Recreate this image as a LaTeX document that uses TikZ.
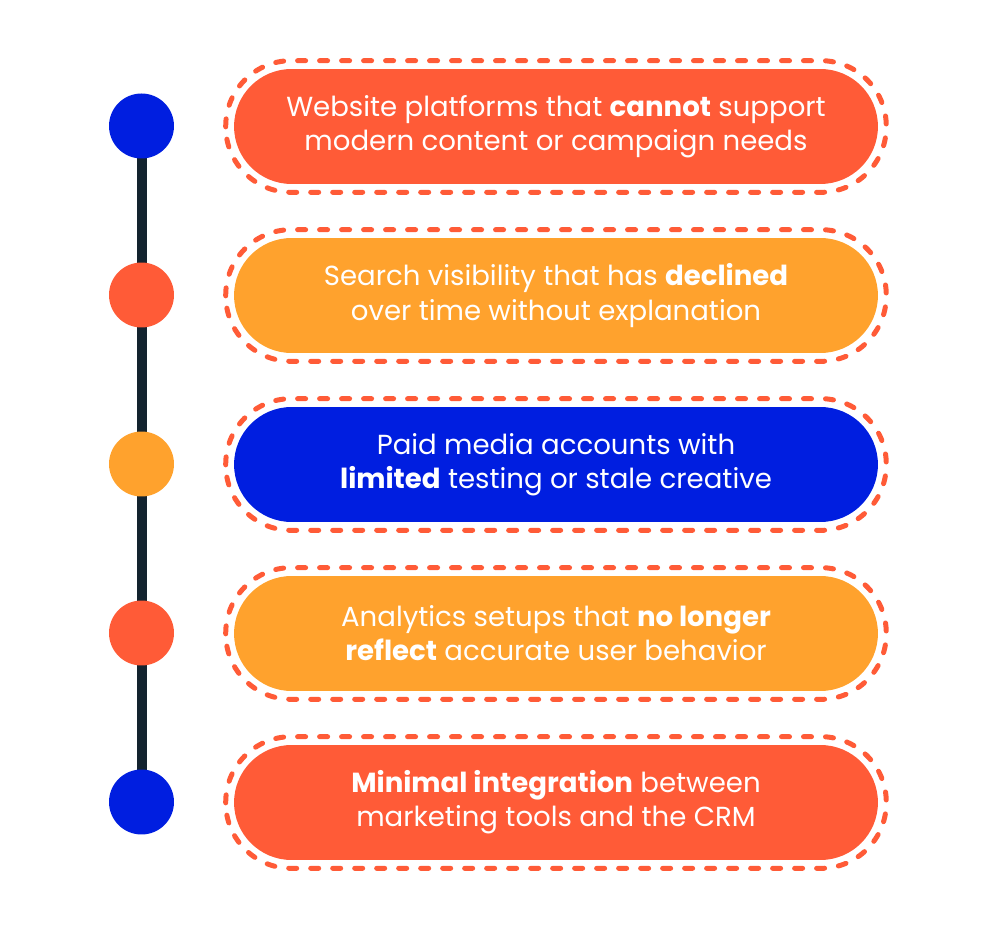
\documentclass[tikz,border=0pt]{standalone}
\usepackage{fontspec}
\setmainfont{Poppins}
\usetikzlibrary{backgrounds}
\definecolor{tomato}{HTML}{FF5B37}
\definecolor{amber}{HTML}{FFA22D}
\definecolor{royal}{HTML}{001EE0}
\definecolor{ink}{HTML}{13232F}
\begin{document}
\begin{tikzpicture}[x=0.02cm,y=-0.02cm,
    dot/.style={circle,minimum size=1.3cm,inner sep=0pt},
    pill/.style={rectangle,rounded corners=1.15cm,minimum width=12.88cm,minimum height=2.3cm,
        text=white,align=center,font=\fontsize{15.7}{19.4}\selectfont},
    dashring/.style={draw=tomato,line width=0.1cm,line cap=round,dash pattern=on 0.16cm off 0.28cm,rounded corners=1.31cm}]
\useasboundingbox (0,0) rectangle (1000,928);
\node[dot,fill=royal] (dot1) at (141.5,126) {};
\node[dot,fill=tomato] (dot2) at (141.5,295) {};
\node[dot,fill=amber] (dot3) at (141.5,464) {};
\node[dot,fill=tomato] (dot4) at (141.5,633) {};
\node[dot,fill=royal] (dot5) at (141.5,802) {};
\begin{scope}[on background layer]
\draw[ink,line width=0.2cm] (dot1.center) -- (dot5.center);
\end{scope}
\node[pill,fill=tomato] (box1) at (556,126.5) {Website platforms that \textbf{cannot} support\\modern content or campaign needs};
\node[pill,fill=amber] (box2) at (556,295.5) {Search visibility that has \textbf{declined}\\over time without explanation};
\node[pill,fill=royal] (box3) at (556,464.5) {Paid media accounts with\\\textbf{limited} testing or stale creative};
\node[pill,fill=amber] (box4) at (556,633.5) {Analytics setups that \textbf{no longer}\\\textbf{reflect} accurate user behavior};
\node[pill,fill=tomato] (box5) at (556,802.5) {\textbf{Minimal integration} between\\marketing tools and the CRM};
\draw[dashring] ([shift={(-8,8)}]box1.south west) rectangle ([shift={(8,-8)}]box1.north east);
\draw[dashring] ([shift={(-8,8)}]box2.south west) rectangle ([shift={(8,-8)}]box2.north east);
\draw[dashring] ([shift={(-8,8)}]box3.south west) rectangle ([shift={(8,-8)}]box3.north east);
\draw[dashring] ([shift={(-8,8)}]box4.south west) rectangle ([shift={(8,-8)}]box4.north east);
\draw[dashring] ([shift={(-8,8)}]box5.south west) rectangle ([shift={(8,-8)}]box5.north east);
\end{tikzpicture}
\end{document}
